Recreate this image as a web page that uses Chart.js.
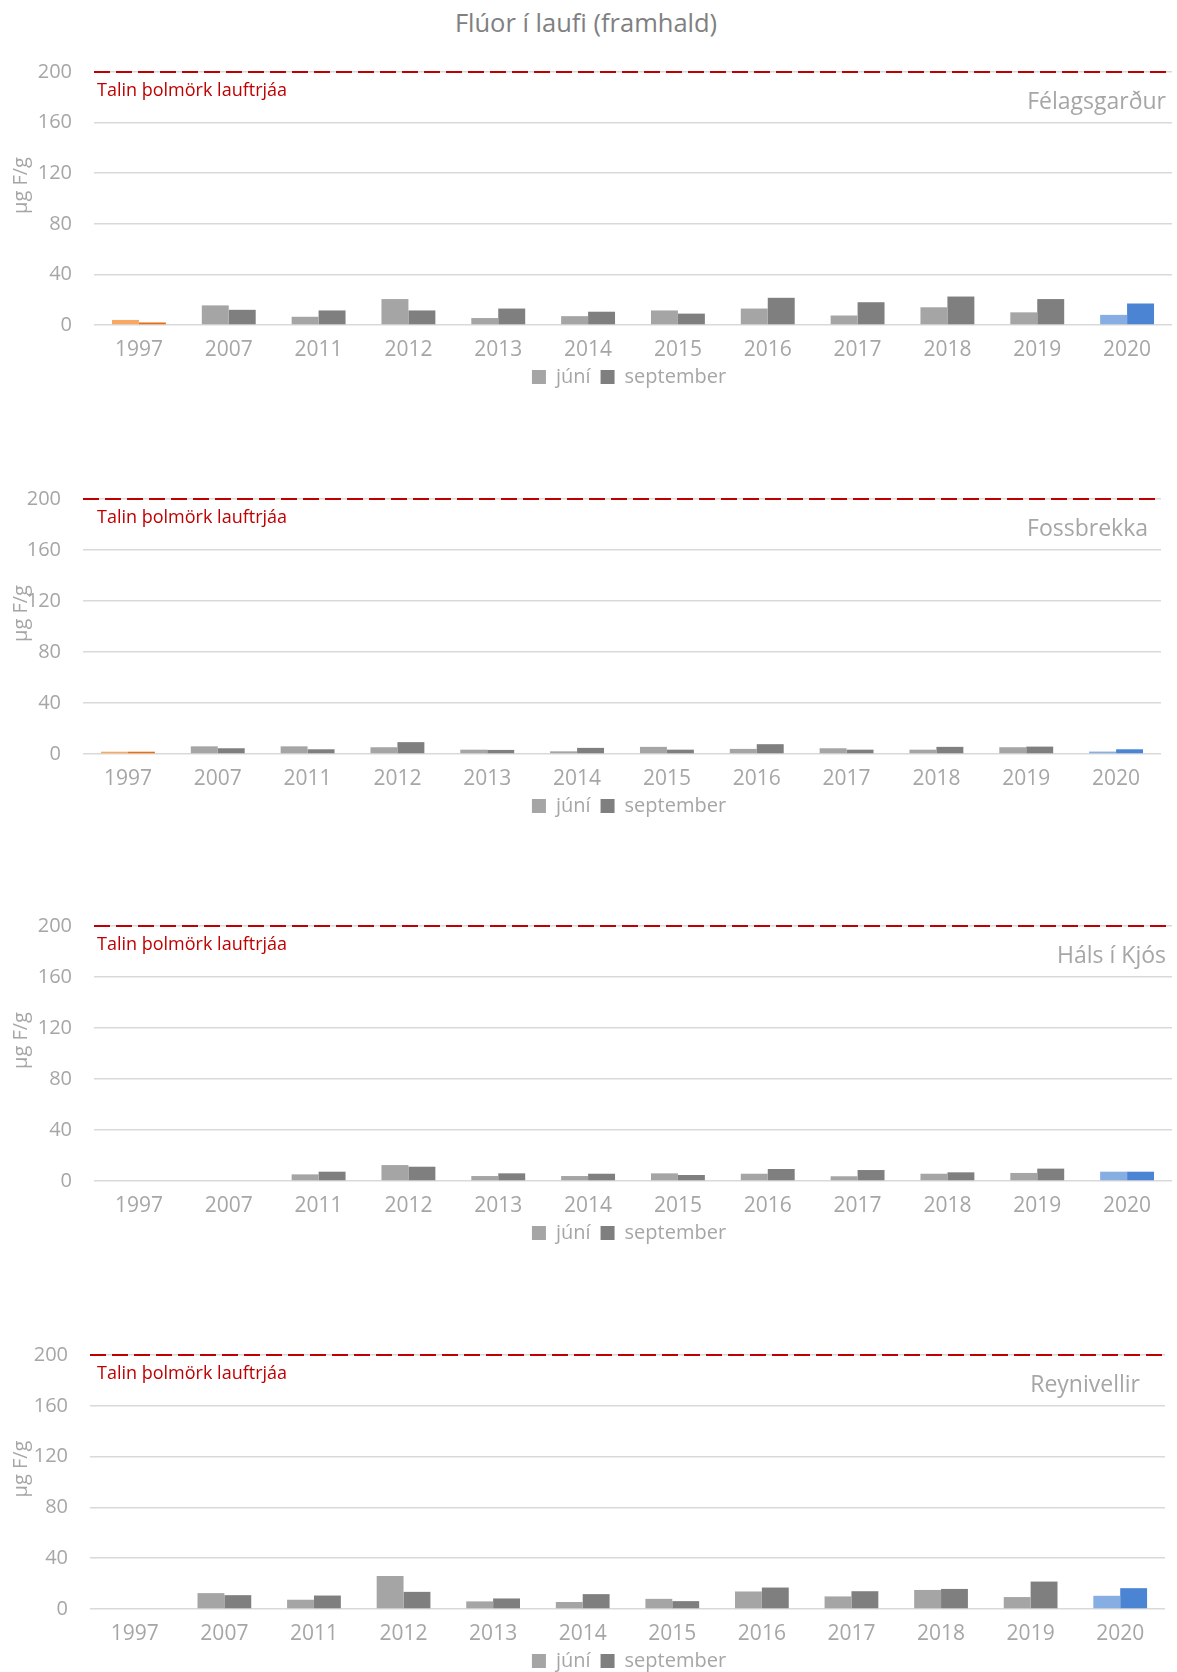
<!DOCTYPE html>
<html>
<head>
<meta charset="utf-8">
<script src="https://cdn.jsdelivr.net/npm/chart.js@4.4.0/dist/chart.umd.min.js"></script>
<style>
  body { margin: 0; background: #fff; width: 1177px; height: 1672px; overflow: hidden; position: relative; font-family: "Open Sans", sans-serif; }
  #title { position: absolute; top: 5px; left: 0; width: 1172px; text-align: center; font-size: 25.5px; color: #808080; }
  .panel { position: absolute; left: 0; }
</style>
</head>
<body>
<div id="title">Flúor í laufi (framhald)</div>
<canvas id="c1" class="panel"></canvas>
<canvas id="c2" class="panel"></canvas>
<canvas id="c3" class="panel"></canvas>
<canvas id="c4" class="panel"></canvas>
<script>
// flokkar og gildi lesin af myndinni
const years = ['1997', '2007', '2011', '2012', '2013', '2014', '2015', '2016', '2017', '2018', '2019', '2020'];

const felagsJuni = [4, 15.5, 6.5, 20.5, 5.5, 7, 11.5, 13, 7.5, 14, 10, 8];
const felagsSept = [2, 12, 11.5, 11.5, 13, 10.5, 9, 21.5, 18, 22.5, 20.5, 17];

const fossJuni = [1.8, 6, 6, 5.3, 3.4, 2.1, 5.6, 4, 4.5, 3.4, 5.3, 1.9];
const fossSept = [1.8, 4.5, 3.7, 9.3, 3.2, 4.8, 3.4, 7.7, 3.4, 5.6, 5.8, 3.7];

const halsJuni = [null, null, 5.2, 12.5, 3.9, 3.9, 6, 5.7, 3.7, 5.7, 6.3, 7.3];
const halsSept = [null, null, 7.3, 11.2, 6, 5.7, 4.7, 9.4, 8.6, 6.8, 9.7, 7.3];

const reyniJuni = [null, 12.5, 7.3, 26, 6, 5.5, 8, 13.8, 9.9, 15, 9.4, 10.4];
const reyniSept = [null, 10.9, 10.6, 13.5, 8.3, 11.7, 6.2, 16.9, 14, 15.8, 21.6, 16.4];

const seriesNames = ['júní', 'september'];
const threshold = 200;
const thresholdLabel = 'Talin þolmörk lauftrjáa';
const yTitle = 'µg F/g';

// litir
const juniColors = { base: '#a5a5a5', first: '#f8a860', last: '#86aee3' };
const septColors = { base: '#7f7f7f', first: '#e66f12', last: '#4a84d3' };
const legendColors = ['#a5a5a5', '#7f7f7f'];

function barColors(c) {
  return years.map((y, i) => i === 0 ? c.first : (i === years.length - 1 ? c.last : c.base));
}

Chart.defaults.font.family = '"Open Sans", sans-serif';
Chart.defaults.color = '#a6a6a6';

// rauða línan, textar og ástitill
const overlay = {
  id: 'overlay',
  afterLayout(chart) {
    // skýringin er miðjuð eins og í frumritinu
    const lg = chart.legend;
    if (!lg) return;
    const dx = 629 - (lg.left + lg.right) / 2;
    lg.left += dx;
    lg.right += dx;
  },
  afterDatasetsDraw(chart, args, opts) {
    const { ctx, chartArea, scales: { y } } = chart;
    const py = y.getPixelForValue(threshold);
    ctx.save();
    ctx.strokeStyle = '#c00000';
    ctx.lineWidth = 2;
    ctx.setLineDash([16, 6]);
    ctx.beginPath();
    ctx.moveTo(chartArea.left, py);
    ctx.lineTo(chartArea.right, py);
    ctx.stroke();
    ctx.setLineDash([]);

    ctx.textBaseline = 'middle';
    ctx.fillStyle = '#c00000';
    ctx.font = '18px "Open Sans"';
    ctx.textAlign = 'left';
    ctx.fillText(thresholdLabel, 97, py + 19);

    ctx.fillStyle = '#a6a6a6';
    ctx.font = '23px "Open Sans"';
    ctx.textAlign = 'right';
    ctx.fillText(opts.station, opts.stationX, py + 30);

    ctx.font = '20px "Open Sans"';
    ctx.textAlign = 'center';
    ctx.translate(21, (chartArea.top + chartArea.bottom) / 2 - 13);
    ctx.rotate(-Math.PI / 2);
    ctx.fillText(yTitle, 0, 0);
    ctx.restore();
  }
};

const panels = [
  { id: 'c1', juni: felagsJuni, sept: felagsSept, station: 'Félagsgarður', top: 71, bottom: 324, left: 94, right: 1172, stationX: 1166 },
  { id: 'c2', juni: fossJuni, sept: fossSept, station: 'Fossbrekka', top: 498, bottom: 753, left: 83, right: 1161, stationX: 1148 },
  { id: 'c3', juni: halsJuni, sept: halsSept, station: 'Háls í Kjós', top: 925, bottom: 1180, left: 94, right: 1172, stationX: 1166 },
  { id: 'c4', juni: reyniJuni, sept: reyniSept, station: 'Reynivellir', top: 1354, bottom: 1608, left: 90, right: 1165, stationX: 1140 }
];

const padTop = 30;
const xAxisHeight = 32;
const legendHeight = 44;

panels.forEach(p => {
  const canvas = document.getElementById(p.id);
  const h = padTop + (p.bottom - p.top) + xAxisHeight + legendHeight;
  canvas.width = 1177;
  canvas.height = h;
  canvas.style.top = (p.top - padTop - 3) + 'px';

  new Chart(canvas, {
    type: 'bar',
    data: {
      labels: years,
      datasets: [
        { label: seriesNames[0], data: p.juni, backgroundColor: barColors(juniColors) },
        { label: seriesNames[1], data: p.sept, backgroundColor: barColors(septColors) }
      ]
    },
    options: {
      responsive: false,
      animation: false,
      datasets: { bar: { categoryPercentage: 0.6, barPercentage: 1.0 } },
      layout: { padding: { top: padTop, right: 1177 - p.right, left: 0, bottom: 0 } },
      scales: {
        x: {
          grid: { display: false, drawTicks: false },
          border: { display: false },
          ticks: { padding: 12, font: { size: 21 }, color: '#a6a6a6', maxRotation: 0 },
          afterFit: s => { s.height = xAxisHeight; }
        },
        y: {
          min: 0,
          max: 200,
          grid: { color: '#d9d9d9', lineWidth: 1.5, drawTicks: false },
          border: { display: false },
          ticks: { stepSize: 40, padding: 22, font: { size: 20 }, color: '#a6a6a6' },
          afterFit: s => { s.width = p.left; }
        }
      },
      plugins: {
        legend: {
          position: 'bottom',
          labels: {
            boxWidth: 14,
            boxHeight: 14,
            padding: 10,
            font: { size: 20 },
            color: '#a6a6a6',
            generateLabels: chart => chart.data.datasets.map((ds, i) => ({
              text: ds.label,
              fillStyle: legendColors[i],
              strokeStyle: legendColors[i],
              lineWidth: 0,
              hidden: false,
              datasetIndex: i,
              fontColor: '#a6a6a6'
            }))
          }
        },
        tooltip: { enabled: false },
        overlay: { station: p.station, stationX: p.stationX }
      }
    },
    plugins: [overlay]
  });
});
</script>
</body>
</html>
